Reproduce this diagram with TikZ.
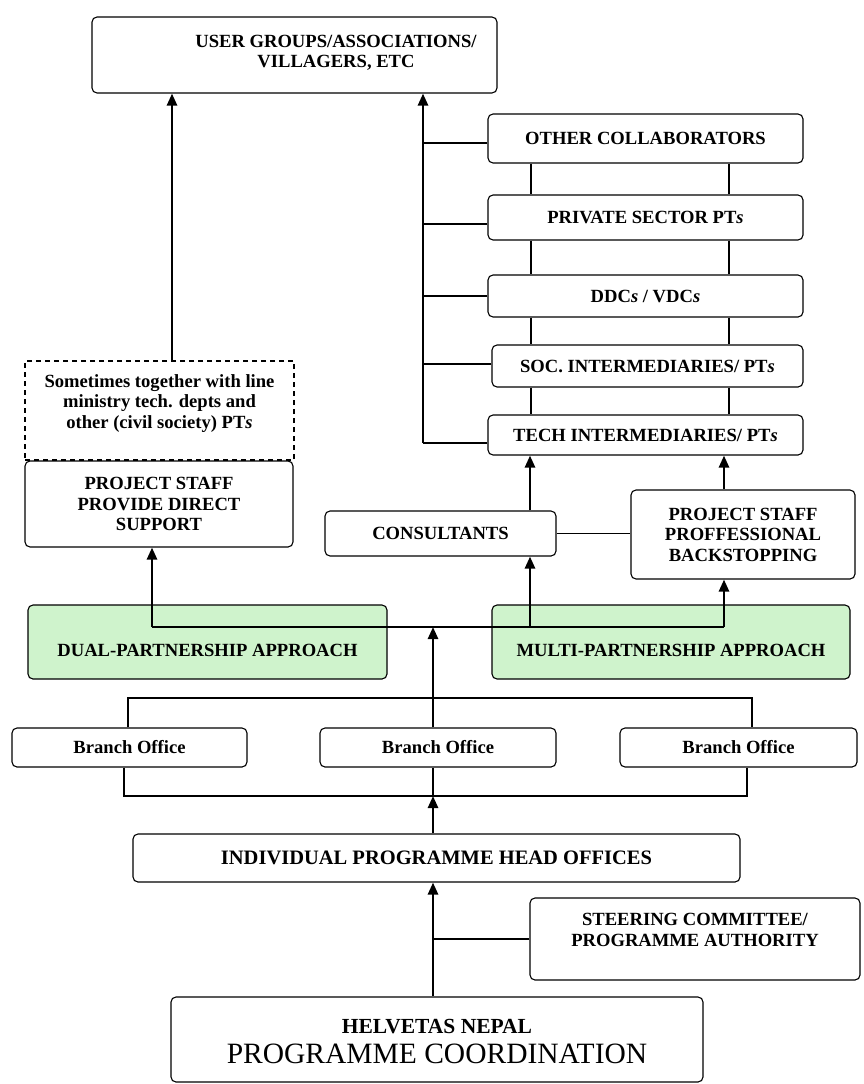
\documentclass[tikz,border=0pt]{standalone}
\usepackage{fontspec}
\setmainfont{Liberation Serif}
\usetikzlibrary{arrows.meta}
\definecolor{appgreen}{RGB}{207,243,204}
\begin{document}
\begin{tikzpicture}[x=1pt,y=-1pt,
  box/.style={draw, rounded corners=5pt, line width=1.1pt, fill=white, align=center, inner sep=0pt,
              font=\bfseries\fontsize{18.6}{20.5}\selectfont},
  appbox/.style={box, fill=appgreen},
  dashbox/.style={draw, dashed, dash pattern=on 5pt off 4pt, line width=1.4pt, fill=white, inner sep=0pt},
  lbl/.style={align=center, inner sep=0pt, font=\bfseries\fontsize{18.6}{20.5}\selectfont},
  ln/.style={line width=1.1pt},
  arr/.style={line width=2.6pt, -{Triangle[length=12pt,width=10pt]}}
]
\fill[white] (0,0) rectangle (864,1084);
\useasboundingbox (0,0) rectangle (864,1084);

% ---------- boxes ----------
\node[box, minimum width=405pt, minimum height=76pt,
      label={[lbl, xshift=41.5pt, yshift=2pt]center:{USER GROUPS/ASSOCIATIONS/\\VILLAGERS, ETC}}]
      (users) at (294.5,55) {};

\node[box, minimum width=315pt, minimum height=49pt] (other) at (645.5,138.5) {OTHER COLLABORATORS};
\node[box, minimum width=315pt, minimum height=45pt] (private) at (645.5,217.5) {PRIVATE SECTOR PT\textit{s}};
\node[box, minimum width=315pt, minimum height=42pt] (ddc) at (645.5,296) {DDC\textit{s} / VDC\textit{s}};
\node[box, minimum width=311pt, minimum height=42pt] (soc) at (647.5,366) {SOC. INTERMEDIARIES/ PT\textit{s}};
\node[box, minimum width=315pt, minimum height=40pt] (tech) at (645.5,435) {TECH INTERMEDIARIES/ PT\textit{s}};

\node[dashbox, minimum width=269pt, minimum height=99pt,
      label={[lbl, yshift=7pt]center:{Sometimes together with line\\ministry tech. depts and\\other (civil society) PT\textit{s}}}]
      (dashed) at (159.5,410.5) {};
\node[box, minimum width=268pt, minimum height=86pt] (direct) at (159,504) {PROJECT STAFF\\PROVIDE DIRECT\\SUPPORT};

\node[box, minimum width=231pt, minimum height=45pt] (consultants) at (440.5,533.5) {CONSULTANTS};
\node[box, minimum width=224pt, minimum height=89pt] (backstop) at (743,534.5) {PROJECT STAFF\\PROFFESSIONAL\\BACKSTOPPING};

\node[appbox, minimum width=359pt, minimum height=74pt,
      label={[lbl, yshift=-8pt]center:DUAL-PARTNERSHIP APPROACH}] (dual) at (207.5,642) {};
\node[appbox, minimum width=358pt, minimum height=74pt,
      label={[lbl, yshift=-8pt]center:MULTI-PARTNERSHIP APPROACH}] (multi) at (671,642) {};

\node[box, minimum width=235pt, minimum height=39pt] (b1) at (129.5,747.5) {Branch Office};
\node[box, minimum width=236pt, minimum height=39pt] (b2) at (438,747.5) {Branch Office};
\node[box, minimum width=237pt, minimum height=39pt] (b3) at (738.5,747.5) {Branch Office};

\node[box, minimum width=607pt, minimum height=48pt, font=\bfseries\fontsize{20.5}{22}\selectfont]
      (indiv) at (436.5,858) {INDIVIDUAL PROGRAMME HEAD OFFICES};

\node[box, minimum width=330pt, minimum height=82pt,
      label={[lbl, yshift=9pt]center:{STEERING COMMITTEE/\\PROGRAMME AUTHORITY}}] (steer) at (695,939) {};

\node[box, minimum width=532pt, minimum height=85pt,
      label={[lbl, yshift=-5pt]center:{\begin{tabular}{@{}c@{}}\fontsize{21.5}{24}\selectfont\bfseries HELVETAS NEPAL\\[5pt]
       \fontsize{29.5}{32}\selectfont\mdseries PROGRAMME COORDINATION\end{tabular}}}]
      (helv) at (437,1039.5) {};

% ---------- helper coordinates ----------
\coordinate (tL) at (172,0);
\coordinate (tR) at (423,0);
\coordinate (cA) at (531,0);
\coordinate (cB) at (729,0);
\coordinate (cC) at (530,0);
\coordinate (cD) at (724,0);
\coordinate (xD) at (152,0);
\coordinate (J) at (433,627);
\coordinate (T) at (0,698);
\coordinate (B) at (0,796);
\coordinate (X1) at (128,0);
\coordinate (X3) at (752,0);
\coordinate (Y1) at (124,0);
\coordinate (Y3) at (747,0);
\coordinate (otherIn) at ([yshift=-4.5pt]other.west);
\coordinate (privateIn) at ([yshift=-6.5pt]private.west);
\coordinate (socIn) at ([yshift=2pt]soc.west);
\coordinate (techIn) at ([yshift=-8pt]tech.west);

% ---------- connectors ----------
\draw[arr] (dashed.north -| tL) -- (users.south -| tL);
\draw[arr] (techIn -| tR) -- (users.south -| tR);
\draw[ln] (otherIn) -- (otherIn -| tR);
\draw[ln] (privateIn) -- (privateIn -| tR);
\draw[ln] (ddc.west) -- (ddc.west -| tR);
\draw[ln] (socIn) -- (socIn -| tR);
\draw[ln] (techIn) -- (techIn -| tR);

\draw[ln] (other.south -| cA) -- (private.north -| cA);
\draw[ln] (other.south -| cB) -- (private.north -| cB);
\draw[ln] (private.south -| cA) -- (ddc.north -| cA);
\draw[ln] (private.south -| cB) -- (ddc.north -| cB);
\draw[ln] (ddc.south -| cA) -- (soc.north -| cA);
\draw[ln] (ddc.south -| cB) -- (soc.north -| cB);
\draw[ln] (soc.south -| cA) -- (tech.north -| cA);
\draw[ln] (soc.south -| cB) -- (tech.north -| cB);

\draw[arr] (consultants.north -| cC) -- (tech.south -| cC);
\draw[arr] (backstop.north -| cD) -- (tech.south -| cD);
\draw[ln] (consultants.east) -- (consultants.east -| backstop.west);

\draw[ln] (J -| xD) -- (J -| cD);
\draw[arr] (J -| xD) -- (direct.south -| xD);
\draw[arr] (J -| cC) -- (consultants.south -| cC);
\draw[arr] (J -| cD) -- (backstop.south -| cD);
\draw[arr] (b2.north -| J) -- (J);

\draw[ln] (b1.north -| X1) -- (X1 |- T) -- (X3 |- T) -- (b3.north -| X3);
\draw[ln] (b1.south -| Y1) -- (Y1 |- B) -- (Y3 |- B) -- (b3.south -| Y3);
\draw[ln] (b2.south -| J) -- (J |- B);
\draw[arr] (indiv.north -| J) -- (J |- B);
\draw[arr] (helv.north -| J) -- (indiv.south -| J);
\draw[ln] (steer.west) -- (steer.west -| J);
\end{tikzpicture}
\end{document}
